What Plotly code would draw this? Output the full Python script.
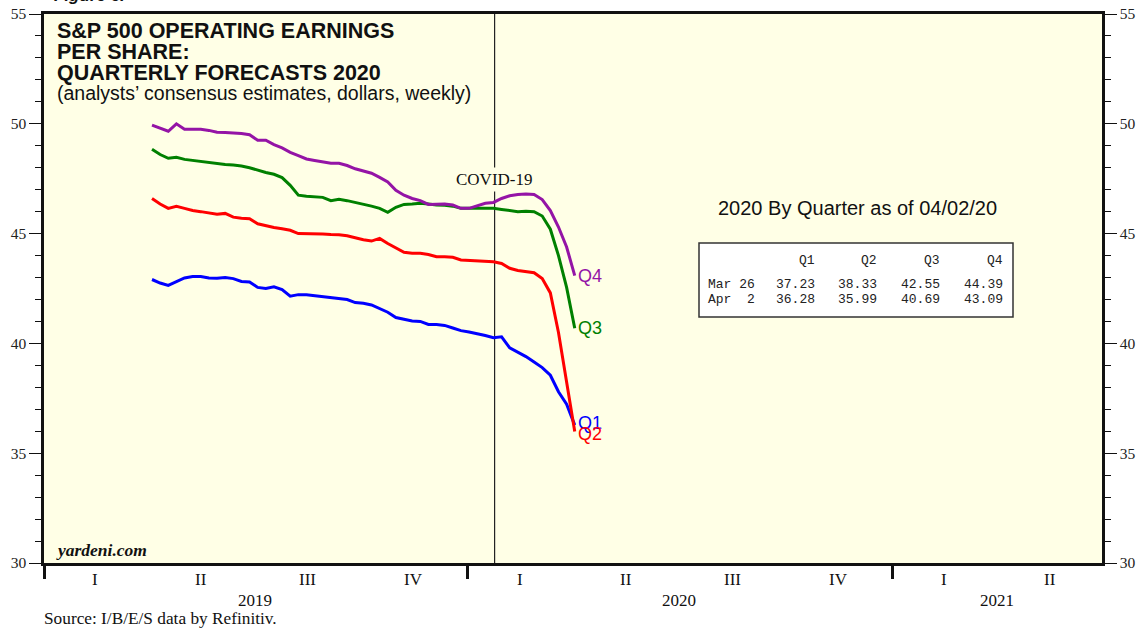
import pandas as pd
import plotly.graph_objects as go

# ---------------- data ----------------
week_start = "2019-04-04"
week_end = "2020-04-02"

q1_values = [42.91, 42.75, 42.64, 42.80, 42.98, 43.05, 43.05, 42.98, 42.97, 43.00,
             42.95, 42.82, 42.80, 42.55, 42.50, 42.58, 42.45, 42.15, 42.22, 42.22,
             42.18, 42.14, 42.10, 42.07, 42.00, 41.86, 41.83, 41.75, 41.60, 41.42,
             41.18, 41.09, 41.02, 41.00, 40.86, 40.86, 40.82, 40.70, 40.58, 40.52,
             40.45, 40.36, 40.26, 40.30, 39.80, 39.60, 39.40, 39.15, 38.90, 38.55,
             37.80, 37.23, 36.28]
q2_values = [46.60, 46.35, 46.15, 46.24, 46.15, 46.05, 46.00, 45.95, 45.88, 45.92,
             45.75, 45.70, 45.68, 45.45, 45.35, 45.28, 45.22, 45.15, 45.00, 45.00,
             45.00, 44.98, 44.96, 44.95, 44.90, 44.80, 44.72, 44.66, 44.78, 44.55,
             44.35, 44.15, 44.10, 44.10, 44.05, 43.95, 43.95, 43.92, 43.80, 43.78,
             43.78, 43.76, 43.72, 43.64, 43.42, 43.32, 43.28, 43.22, 42.95, 42.30,
             40.50, 38.33, 35.99]
q3_values = [48.84, 48.60, 48.43, 48.48, 48.38, 48.33, 48.29, 48.25, 48.20, 48.15,
             48.12, 48.08, 48.00, 47.88, 47.78, 47.70, 47.55, 47.20, 46.75, 46.70,
             46.67, 46.65, 46.50, 46.56, 46.50, 46.42, 46.35, 46.25, 46.15, 45.97,
             46.20, 46.33, 46.35, 46.38, 46.35, 46.30, 46.29, 46.25, 46.15, 46.15,
             46.15, 46.15, 46.15, 46.10, 46.05, 46.00, 46.02, 46.00, 45.80, 45.20,
             44.00, 42.55, 40.69]
q4_values = [49.94, 49.80, 49.66, 50.00, 49.75, 49.75, 49.75, 49.70, 49.62, 49.60,
             49.58, 49.56, 49.50, 49.25, 49.25, 49.05, 48.90, 48.70, 48.55, 48.40,
             48.33, 48.25, 48.20, 48.20, 48.10, 47.95, 47.85, 47.75, 47.56, 47.35,
             46.97, 46.75, 46.60, 46.50, 46.33, 46.33, 46.35, 46.30, 46.15, 46.15,
             46.25, 46.38, 46.42, 46.60, 46.72, 46.78, 46.80, 46.78, 46.55, 46.05,
             45.30, 44.39, 43.09]

series_names = ["Q1", "Q2", "Q3", "Q4"]
series_colors = ["#0000FF", "#FF0000", "#008000", "#9414A6"]

covid_date = "2020-01-24"
covid_label = "COVID-19"

x_start = "2019-01-01"
x_end = "2021-06-30"
y_min, y_max = 30, 55

year_bounds = ["2019-01-01", "2020-01-01", "2021-01-01"]
quarter_mids = ["2019-02-14", "2019-05-16", "2019-08-16", "2019-11-15",
                "2020-02-15", "2020-05-16", "2020-08-16", "2020-11-15",
                "2021-02-14", "2021-05-16"]
quarter_labels = ["I", "II", "III", "IV", "I", "II", "III", "IV", "I", "II"]
year_mids = ["2019-07-02", "2020-07-01", "2021-04-01"]
year_labels = ["2019", "2020", "2021"]

table_header = ["Q1", "Q2", "Q3", "Q4"]
table_rows = ["Mar 26", "Apr\u00a0\u00a02"]
table_q1 = ["37.23", "36.28"]
table_q2 = ["38.33", "35.99"]
table_q3 = ["42.55", "40.69"]
table_q4 = ["44.39", "43.09"]

# ---------------- layout helpers ----------------
W, H = 1139, 633
L, R, T, B = 44, 37, 14, 70
PW, PH = W - L - R, H - T - B


def px(x):
    """page pixel x -> paper fraction"""
    return (x - L) / PW


def py(y):
    """page pixel y -> paper fraction"""
    return (H - B - y) / PH


SERIF = "Liberation Serif"
SANS = "Liberation Sans"
MONO = "Liberation Mono"
BG = "#FFFFE6"

dates = pd.date_range(week_start, week_end, freq="7D")
all_values = [q1_values, q2_values, q3_values, q4_values]

fig = go.Figure()
for name, vals, col in zip(series_names, all_values, series_colors):
    fig.add_trace(go.Scatter(x=dates, y=vals, mode="lines", name=name,
                             line=dict(color=col, width=3), showlegend=False))

# dummy trace for right axis
fig.add_trace(go.Scatter(x=[dates[0]], y=[q1_values[0]], yaxis="y2",
                         mode="lines", line=dict(width=0), showlegend=False,
                         hoverinfo="skip"))

ann = []
# end labels
for name, vals, col in zip(series_names, all_values, series_colors):
    yshift = 0
    if name == "Q2":
        yshift = -3
    if name == "Q1":
        yshift = 2
    ann.append(dict(x=dates[-1], y=vals[-1], xref="x", yref="y", text=name,
                    showarrow=False, xanchor="left", yanchor="middle", xshift=1,
                    yshift=yshift, font=dict(family=SANS, size=18, color=col)))

# covid label
ann.append(dict(x=covid_date, y=py(179), xref="x", yref="paper", text=covid_label,
                showarrow=False, xanchor="center", yanchor="middle", bgcolor=BG,
                borderpad=2, font=dict(family=SERIF, size=17, color="#111")))

# titles
title_lines = ["S&P 500 OPERATING EARNINGS", "PER SHARE:", "QUARTERLY FORECASTS 2020"]
for i, t in enumerate(title_lines):
    ann.append(dict(x=px(55), y=py(31 + 21 * i), xref="paper", yref="paper",
                    text="<b>" + t + "</b>", showarrow=False, xanchor="left",
                    yanchor="middle", font=dict(family=SANS, size=21.5, color="#111")))
ann.append(dict(x=px(55), y=py(93), xref="paper", yref="paper",
                text="(analysts\u2019 consensus estimates, dollars, weekly)",
                showarrow=False, xanchor="left", yanchor="middle",
                font=dict(family=SANS, size=19.5, color="#111")))

ann.append(dict(x=px(52), y=py(-4), xref="paper", yref="paper",
                text="<b><i>Figure 6.</i></b>", showarrow=False, xanchor="left",
                yanchor="middle", font=dict(family=SANS, size=17, color="#111")))

ann.append(dict(x=px(54), y=py(550), xref="paper", yref="paper",
                text="<b><i>yardeni.com</i></b>", showarrow=False, xanchor="left",
                yanchor="middle", font=dict(family=SERIF, size=17.5, color="#111")))

ann.append(dict(x=px(42), y=py(618), xref="paper", yref="paper",
                text="Source: I/B/E/S data by Refinitiv.", showarrow=False,
                xanchor="left", yanchor="middle",
                font=dict(family=SERIF, size=17.3, color="#111")))

ann.append(dict(x=px(857), y=py(208), xref="paper", yref="paper",
                text="2020 By Quarter as of 04/02/20", showarrow=False,
                xanchor="center", yanchor="middle",
                font=dict(family=SANS, size=20, color="#111")))

# quarter / year labels
for d, t in zip(quarter_mids, quarter_labels):
    ann.append(dict(x=d, y=py(579), xref="x", yref="paper", text=t, showarrow=False,
                    xanchor="center", yanchor="middle",
                    font=dict(family=SERIF, size=17, color="#111")))
for d, t in zip(year_mids, year_labels):
    ann.append(dict(x=d, y=py(600), xref="x", yref="paper", text=t, showarrow=False,
                    xanchor="center", yanchor="middle",
                    font=dict(family=SERIF, size=17, color="#111")))

# table
col_right = [817, 879, 942, 1005]
tf = dict(family=MONO, size=13, color="#222")
for hdr, xr in zip(table_header, col_right):
    ann.append(dict(x=px(xr), y=py(260), xref="paper", yref="paper", text=hdr,
                    showarrow=False, xanchor="right", yanchor="middle", font=tf))
row_y = [284, 299]
cols = [table_q1, table_q2, table_q3, table_q4]
for r, (lab, yy) in enumerate(zip(table_rows, row_y)):
    ann.append(dict(x=px(706), y=py(yy), xref="paper", yref="paper", text=lab,
                    showarrow=False, xanchor="left", yanchor="middle", font=tf))
    for c, xr in zip(cols, col_right):
        ann.append(dict(x=px(xr), y=py(yy), xref="paper", yref="paper", text=c[r],
                        showarrow=False, xanchor="right", yanchor="middle", font=tf))

shapes = [
    dict(type="line", xref="x", yref="paper", x0=covid_date, x1=covid_date, y0=0, y1=1,
         line=dict(color="#222", width=1.2), layer="below"),
    dict(type="rect", xref="paper", yref="paper", x0=px(699), x1=px(1013),
         y0=py(317), y1=py(243), line=dict(color="#333", width=1.5), fillcolor="white",
         layer="below"),
]

axis_font = dict(family=SERIF, size=15.5, color="#222")
fig.update_layout(
    width=W, height=H,
    margin=dict(l=L, r=R, t=T, b=B, pad=0, autoexpand=False),
    paper_bgcolor="white", plot_bgcolor=BG,
    annotations=ann, shapes=shapes,
    xaxis=dict(range=[x_start, x_end], type="date", showgrid=False, zeroline=False,
               showline=True, linecolor="#111", linewidth=2.5, mirror=True,
               tickmode="array", tickvals=year_bounds, ticks="outside", ticklen=13,
               tickwidth=2.5, tickcolor="#111", showticklabels=False),
    yaxis=dict(range=[y_min, y_max], showgrid=False, zeroline=False, showline=True,
               linecolor="#111", linewidth=2.5, tickmode="linear", tick0=30, dtick=5,
               ticks="outside", ticklen=12, tickwidth=1, tickcolor="#111",
               tickfont=axis_font, ticklabeloverflow="allow",
               minor=dict(dtick=1, ticks="outside", ticklen=6, tickcolor="#111",
                          tickwidth=1)),
    yaxis2=dict(range=[y_min, y_max], overlaying="y", side="right", showgrid=False,
                zeroline=False, showline=True, linecolor="#111", linewidth=2.5,
                tickmode="linear", tick0=30, dtick=5, ticks="outside", ticklen=12,
                tickwidth=1, tickcolor="#111", tickfont=axis_font,
                ticklabeloverflow="allow",
                minor=dict(dtick=1, ticks="outside", ticklen=6, tickcolor="#111",
                           tickwidth=1)),
)

fig.write_html("out.html",
               config={"displayModeBar": False},
               post_script="document.body.style.margin='0';"
                           "document.body.style.overflow='hidden';")
